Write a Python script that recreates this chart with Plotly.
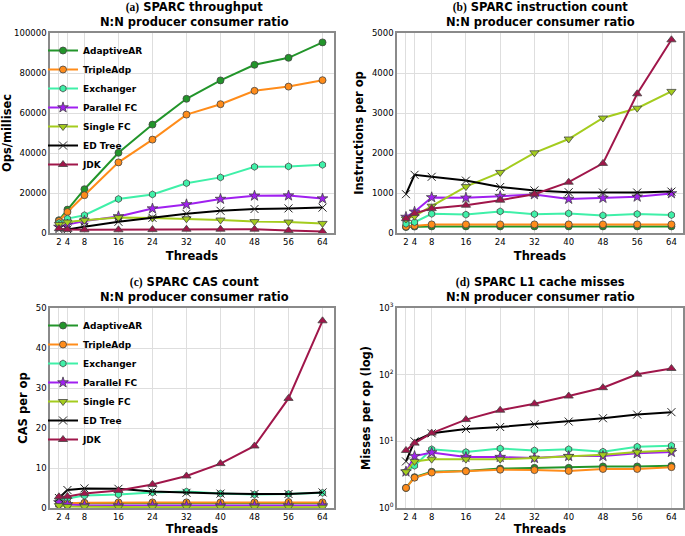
import plotly.graph_objects as go

threads = [2, 4, 8, 16, 24, 32, 40, 48, 56, 64]
thread_ticks = [2, 4, 8, 16, 24, 32, 40, 48, 56, 64]
series = ["AdaptiveAR", "TripleAdp", "Exchanger", "Parallel FC", "Single FC", "ED Tree", "JDK"]

throughput = {
    "AdaptiveAR": [6400, 11700, 21900, 40100, 54200, 67100, 76300, 84100, 87600, 95300],
    "TripleAdp": [6000, 10500, 18900, 35300, 46700, 59200, 64400, 71100, 73200, 76400],
    "Exchanger": [5000, 7200, 8900, 17000, 19300, 24900, 27800, 33100, 33300, 34100],
    "Parallel FC": [3000, 4200, 6000, 8300, 12200, 14300, 17000, 18600, 18700, 17200],
    "Single FC": [4300, 5500, 6400, 7700, 7500, 7100, 6500, 5700, 5500, 4800],
    "ED Tree": [1700, 1800, 3100, 5600, 7600, 9600, 11100, 12000, 12300, 12700],
    "JDK": [2200, 1700, 1600, 1600, 1700, 1900, 1900, 1900, 1200, 700],
}

instructions = {
    "AdaptiveAR": [150, 160, 165, 165, 165, 165, 165, 165, 165, 165],
    "TripleAdp": [160, 180, 215, 215, 215, 215, 215, 215, 215, 215],
    "Exchanger": [230, 270, 480, 460, 540, 470, 490, 440, 475, 450],
    "Parallel FC": [400, 530, 890, 880, 920, 965, 850, 875, 905, 990],
    "Single FC": [350, 420, 670, 1160, 1515, 2005, 2350, 2875, 3120, 3540],
    "ED Tree": [970, 1455, 1405, 1310, 1150, 1065, 1020, 1012, 1012, 1035],
    "JDK": [360, 490, 610, 695, 820, 970, 1270, 1740, 3480, 4830],
}

cas = {
    "AdaptiveAR": [1.0, 1.1, 1.2, 1.2, 1.2, 1.2, 1.2, 1.2, 1.2, 1.2],
    "TripleAdp": [0.9, 1.2, 1.3, 1.4, 1.4, 1.4, 1.4, 1.4, 1.5, 1.4],
    "Exchanger": [2.0, 2.4, 3.1, 3.4, 3.9, 4.1, 3.6, 3.4, 3.5, 3.8],
    "Parallel FC": [1.4, 0.9, 0.7, 0.6, 0.6, 0.6, 0.6, 0.6, 0.6, 0.6],
    "Single FC": [0.6, 0.4, 0.3, 0.2, 0.2, 0.2, 0.2, 0.2, 0.2, 0.2],
    "ED Tree": [2.5, 4.5, 4.9, 4.8, 4.1, 3.8, 3.6, 3.5, 3.5, 3.9],
    "JDK": [2.8, 2.9, 3.6, 4.4, 5.9, 8.0, 11.1, 15.5, 27.4, 46.8],
}

l1_misses = {
    "AdaptiveAR": [2.0, 2.9, 3.5, 3.6, 3.9, 4.0, 4.0, 4.2, 4.2, 4.3],
    "TripleAdp": [2.0, 2.85, 3.4, 3.55, 3.75, 3.7, 3.6, 3.85, 3.85, 4.1],
    "Exchanger": [3.5, 4.3, 7.6, 6.9, 7.8, 7.3, 7.6, 7.0, 8.3, 8.6],
    "Parallel FC": [3.5, 6.0, 6.8, 5.8, 5.8, 5.6, 6.0, 6.0, 6.6, 6.9],
    "Single FC": [3.5, 5.0, 5.4, 5.4, 5.4, 5.6, 5.9, 6.3, 6.9, 7.3],
    "ED Tree": [5.0, 10.0, 13.2, 15.3, 16.4, 18.0, 19.8, 22.2, 25.2, 27.4],
    "JDK": [7.3, 9.4, 13.3, 21.2, 29.3, 36.6, 47.8, 63.8, 101.6, 123.8],
}

styles = {
    "AdaptiveAR": dict(color="#22952a", symbol="circle", size=7),
    "TripleAdp": dict(color="#ff8c1a", symbol="circle", size=7),
    "Exchanger": dict(color="#3ff0a8", symbol="hexagon", size=7),
    "Parallel FC": dict(color="#a020f0", symbol="star", size=8),
    "Single FC": dict(color="#a4cc1e", symbol="triangle-down", size=8),
    "ED Tree": dict(color="#000000", symbol="x-thin-open", size=8),
    "JDK": dict(color="#a0164a", symbol="triangle-up", size=8),
}

W, H = 685, 536

def fx(px):
    return px / W

def fy(py):
    return (H - py) / H

def px_x(a, b):
    return [fx(a), fx(b)]

def px_y(top, bottom):
    return [fy(bottom), fy(top)]

fig = go.Figure()

panels = [
    ("x", "y", throughput, "legend"),
    ("x2", "y2", instructions, None),
    ("x3", "y3", cas, "legend2"),
    ("x4", "y4", l1_misses, None),
]

for xa, ya, data, leg in panels:
    for name in series:
        st = styles[name]
        if st["symbol"] == "x-thin-open":
            marker = dict(symbol=st["symbol"], size=st["size"], color="#222222",
                          line=dict(color="#222222", width=1))
        else:
            marker = dict(symbol=st["symbol"], size=st["size"], color=st["color"],
                          line=dict(color="#444444", width=0.8))
        kw = dict(x=threads, y=data[name], name=name, mode="lines+markers",
                  xaxis=xa, yaxis=ya,
                  line=dict(color=st["color"], width=2),
                  marker=marker)
        if leg:
            kw["legend"] = leg
            kw["showlegend"] = True
        else:
            kw["showlegend"] = False
        fig.add_trace(go.Scatter(**kw))

font_main = "DejaVu Sans"
tickfont = dict(family=font_main, size=8.5, color="#000")
titlefont = dict(family=font_main, size=11.5, color="#000", weight="bold")

def xaxis_cfg(dom, anchor):
    return dict(domain=dom, anchor=anchor, range=[-0.1, 66.7], automargin=False,
                tickmode="array", tickvals=thread_ticks, ticktext=[str(t) for t in thread_ticks],
                tickfont=tickfont, showgrid=True, gridcolor="#dedede", gridwidth=1,
                showline=True, linecolor="#8a8a8a", linewidth=1.5, mirror=True,
                ticks="", zeroline=False,
                title=dict(text="<b>Threads</b>", font=titlefont, standoff=6))

def yaxis_cfg(dom, anchor, title, **extra):
    d = dict(domain=dom, anchor=anchor, tickfont=tickfont, showgrid=True, automargin=False,
             gridcolor="#dedede", gridwidth=1, showline=True, linecolor="#8a8a8a",
             linewidth=1.5, mirror=True, ticks="", zeroline=False,
             title=dict(text="<b>" + title + "</b>", font=titlefont, standoff=6))
    d.update(extra)
    return d

xa_dom = px_x(50, 334)
xb_dom = px_x(397, 683)
top_dom = px_y(33, 233)
bot_dom = px_y(308, 508)

fig.update_layout(
    width=W, height=H,
    margin=dict(l=0, r=0, t=0, b=0, autoexpand=False),
    paper_bgcolor="white", plot_bgcolor="white",
    font=dict(family=font_main, color="#000"),
    xaxis=xaxis_cfg(xa_dom, "y"),
    yaxis=yaxis_cfg(top_dom, "x", "Ops/millisec", range=[0, 100000],
                    tickvals=[0, 20000, 40000, 60000, 80000, 100000], tickformat="d"),
    xaxis2=xaxis_cfg(xb_dom, "y2"),
    yaxis2=yaxis_cfg(top_dom, "x2", "Instructions per op", range=[0, 5000], dtick=1000, tickformat="d"),
    xaxis3=xaxis_cfg(xa_dom, "y3"),
    yaxis3=yaxis_cfg(bot_dom, "x3", "CAS per op", range=[0, 50], dtick=10),
    xaxis4=xaxis_cfg(xb_dom, "y4"),
    yaxis4=yaxis_cfg(bot_dom, "x4", "Misses per op (log)", type="log", range=[0, 3],
                     tickvals=[1, 10, 100, 1000],
                     ticktext=["10<sup>0</sup>", "10<sup>1</sup>", "10<sup>2</sup>", "10<sup>3</sup>"]),
    legend=dict(x=fx(43), y=fy(36), xanchor="left", yanchor="top",
                bgcolor="rgba(255,255,255,0)", borderwidth=0,
                font=dict(family=font_main, size=9, color="#000", weight="bold"),
                itemwidth=30, tracegroupgap=0),
    legend2=dict(x=fx(43), y=fy(311), xanchor="left", yanchor="top",
                 bgcolor="rgba(255,255,255,0)", borderwidth=0,
                 font=dict(family=font_main, size=9, color="#000", weight="bold"),
                 itemwidth=30, tracegroupgap=0),
)

serif = "<span style='font-family:Liberation Serif;'>"
titles = [
    (serif + "(a)</span> SPARC throughput", (50 + 334) / 2 + 2, 14.5),
    (serif + "(b)</span> SPARC instruction count", (397 + 683) / 2, 14.5),
    (serif + "(c)</span> SPARC CAS count", (50 + 334) / 2 + 2, 289.5),
    (serif + "(d)</span> SPARC L1 cache misses", (397 + 683) / 2, 289.5),
]
for txt, cx, cy in titles:
    fig.add_annotation(text="<b>" + txt + "<br>N:N producer consumer ratio</b>",
                       x=fx(cx), y=fy(cy), xref="paper", yref="paper",
                       xanchor="center", yanchor="middle", showarrow=False,
                       font=dict(family=font_main, size=11.5, color="#000"))

# remove the default 8px page margin so the figure fills the 685x536 window exactly
fig.write_html("out.html", config={"displayModeBar": False},
               post_script="document.body.style.margin='0';")
